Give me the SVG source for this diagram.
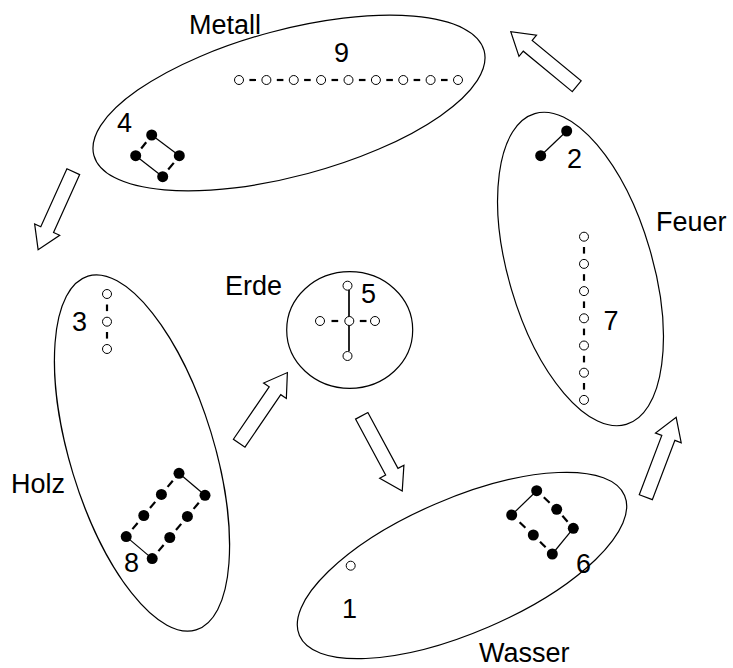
<svg xmlns="http://www.w3.org/2000/svg" width="733" height="668" viewBox="0 0 733 668">
<defs>
<style>
.ring{fill:none;stroke:#000;stroke-width:1.2}
.lbl{font-family:"Liberation Sans",Arial,sans-serif;font-size:27px;fill:#000}
.o{fill:#fff;stroke:#000;stroke-width:1}
.f{fill:#000}
.b{stroke:#000;stroke-width:1.2;fill:none}
.d{stroke:#000;stroke-width:2.2;fill:none}
.arr{fill:#fff;stroke:#000;stroke-width:1.2;stroke-linejoin:miter}
</style>
<path id="arrow" d="M0,-7 H63.5 V-13.75 L85.5,0 L63.5,13.75 V7 H0 Z"/>
</defs>
<rect width="733" height="668" fill="#fff"/>

<g id="connectors">
<use href="#arrow" class="arr" transform="translate(576.7,86.2) rotate(-140.45)"/>
<use href="#arrow" class="arr" transform="translate(73.3,171.7) rotate(114.3)"/>
<use href="#arrow" class="arr" transform="translate(239.2,443.2) rotate(-55.7)"/>
<use href="#arrow" class="arr" transform="translate(361.7,415.8) rotate(61.7)"/>
<use href="#arrow" class="arr" transform="translate(645.8,497.2) rotate(-69.2)"/>
</g>

<g id="metall">
<ellipse class="ring" cx="289" cy="103" rx="202" ry="73" transform="rotate(-15 289 103)"/>
<text class="lbl" x="189" y="34">Metall</text>
<text class="lbl" x="334" y="62">9</text>
<g>
<line class="d" x1="249.4" y1="80" x2="256" y2="80"/>
<line class="d" x1="276.8" y1="80" x2="283.4" y2="80"/>
<line class="d" x1="304.1" y1="80" x2="310.7" y2="80"/>
<line class="d" x1="331.5" y1="80" x2="338.1" y2="80"/>
<line class="d" x1="358.9" y1="80" x2="365.5" y2="80"/>
<line class="d" x1="386.3" y1="80" x2="392.9" y2="80"/>
<line class="d" x1="413.6" y1="80" x2="420.2" y2="80"/>
<line class="d" x1="441" y1="80" x2="447.6" y2="80"/>
<circle class="o" cx="239" cy="80" r="4.5"/>
<circle class="o" cx="266.4" cy="80" r="4.5"/>
<circle class="o" cx="293.75" cy="80" r="4.5"/>
<circle class="o" cx="321.1" cy="80" r="4.5"/>
<circle class="o" cx="348.5" cy="80" r="4.5"/>
<circle class="o" cx="375.9" cy="80" r="4.5"/>
<circle class="o" cx="403.25" cy="80" r="4.5"/>
<circle class="o" cx="430.6" cy="80" r="4.5"/>
<circle class="o" cx="458" cy="80" r="4.5"/>
</g>
<text class="lbl" x="117" y="132">4</text>
<g>
<line class="b" x1="151.7" y1="135" x2="179.3" y2="155.7"/>
<line class="b" x1="135.7" y1="155.7" x2="162.7" y2="176.7"/>
<line class="d" x1="146.2" y1="142.2" x2="141.2" y2="148.5"/>
<line class="d" x1="173.8" y1="162.9" x2="168.2" y2="169.5"/>
<circle class="f" cx="151.7" cy="135" r="5.5"/>
<circle class="f" cx="135.7" cy="155.7" r="5.5"/>
<circle class="f" cx="179.3" cy="155.7" r="5.5"/>
<circle class="f" cx="162.7" cy="176.7" r="5.5"/>
</g>
</g>

<g id="feuer">
<ellipse class="ring" cx="580.5" cy="269" rx="162" ry="72" transform="rotate(73.6 580.5 269)"/>
<text class="lbl" x="656" y="231">Feuer</text>
<text class="lbl" x="567" y="168">2</text>
<line class="b" x1="566.7" y1="131" x2="540.7" y2="155.7"/>
<circle class="f" cx="566.7" cy="131" r="5.5"/>
<circle class="f" cx="540.7" cy="155.7" r="5.5"/>
<text class="lbl" x="603.5" y="330">7</text>
<g>
<line class="d" x1="584" y1="247" x2="584" y2="253.6"/>
<line class="d" x1="584" y1="274.2" x2="584" y2="280.8"/>
<line class="d" x1="584" y1="301.4" x2="584" y2="308"/>
<line class="d" x1="584" y1="328.6" x2="584" y2="335.2"/>
<line class="d" x1="584" y1="355.8" x2="584" y2="362.4"/>
<line class="d" x1="584" y1="383" x2="584" y2="389.6"/>
<circle class="o" cx="584" cy="236.7" r="4.5"/>
<circle class="o" cx="584" cy="263.9" r="4.5"/>
<circle class="o" cx="584" cy="291.1" r="4.5"/>
<circle class="o" cx="584" cy="318.3" r="4.5"/>
<circle class="o" cx="584" cy="345.5" r="4.5"/>
<circle class="o" cx="584" cy="372.7" r="4.5"/>
<circle class="o" cx="584" cy="399.9" r="4.5"/>
</g>
</g>

<g id="erde">
<ellipse class="ring" cx="349.7" cy="330" rx="63" ry="58.3"/>
<text class="lbl" x="225" y="295">Erde</text>
<text class="lbl" x="361" y="303">5</text>
<line class="b" x1="349" y1="290" x2="349" y2="351" style="stroke-width:1.7"/>
<line class="d" x1="331.5" y1="321" x2="338.2" y2="321"/>
<line class="d" x1="359.8" y1="321" x2="366.5" y2="321"/>
<circle class="o" cx="347.5" cy="285.7" r="4.5"/>
<circle class="o" cx="320" cy="321" r="4.5"/>
<circle class="o" cx="349.3" cy="321" r="4.5"/>
<circle class="o" cx="375" cy="321" r="4.5"/>
<circle class="o" cx="347.5" cy="356" r="4.5"/>
</g>

<g id="holz">
<ellipse class="ring" cx="142" cy="453" rx="185" ry="72" transform="rotate(73 142 453)"/>
<text class="lbl" x="11" y="493">Holz</text>
<text class="lbl" x="72" y="331">3</text>
<line class="d" x1="107" y1="304.5" x2="107" y2="311.1"/>
<line class="d" x1="107" y1="332" x2="107" y2="338.6"/>
<circle class="o" cx="107" cy="294" r="4.5"/>
<circle class="o" cx="107" cy="321.7" r="4.5"/>
<circle class="o" cx="107" cy="349" r="4.5"/>
<text class="lbl" x="124" y="572">8</text>
<g>
<line class="b" x1="179" y1="473.3" x2="205" y2="495.3"/>
<line class="b" x1="126.2" y1="536.6" x2="152.2" y2="558.6"/>
<line class="d" x1="172.8" y1="480.8" x2="167.6" y2="486.9"/>
<line class="d" x1="155.2" y1="501.9" x2="150" y2="508"/>
<line class="d" x1="137.6" y1="523" x2="132.4" y2="529.1"/>
<line class="d" x1="198.8" y1="502.8" x2="193.6" y2="508.9"/>
<line class="d" x1="181.2" y1="523.9" x2="176" y2="530"/>
<line class="d" x1="163.6" y1="545" x2="158.4" y2="551.1"/>
<circle class="f" cx="179" cy="473.3" r="5.5"/>
<circle class="f" cx="161.4" cy="494.4" r="5.5"/>
<circle class="f" cx="143.8" cy="515.5" r="5.5"/>
<circle class="f" cx="126.2" cy="536.6" r="5.5"/>
<circle class="f" cx="205" cy="495.3" r="5.5"/>
<circle class="f" cx="187.4" cy="516.4" r="5.5"/>
<circle class="f" cx="169.8" cy="537.5" r="5.5"/>
<circle class="f" cx="152.2" cy="558.6" r="5.5"/>
</g>
</g>

<g id="wasser">
<ellipse class="ring" cx="462" cy="565.5" rx="177" ry="67" transform="rotate(-23.3 462 565.5)"/>
<text class="lbl" x="479" y="662">Wasser</text>
<text class="lbl" x="342" y="618">1</text>
<circle class="o" cx="350.7" cy="565.7" r="4.5"/>
<text class="lbl" x="576" y="573">6</text>
<g>
<line class="b" x1="536.7" y1="490.7" x2="511.7" y2="515"/>
<line class="b" x1="573.3" y1="528.3" x2="552.3" y2="554"/>
<line class="d" x1="543.8" y1="497.3" x2="549.6" y2="502.7"/>
<line class="d" x1="562.4" y1="515.8" x2="567.6" y2="521.8"/>
<line class="d" x1="519.6" y1="522.3" x2="525.4" y2="527.7"/>
<line class="d" x1="540" y1="541.7" x2="545.6" y2="547.3"/>
<circle class="f" cx="536.7" cy="490.7" r="5.5"/>
<circle class="f" cx="511.7" cy="515" r="5.5"/>
<circle class="f" cx="556.7" cy="509.3" r="5.5"/>
<circle class="f" cx="573.3" cy="528.3" r="5.5"/>
<circle class="f" cx="533.3" cy="535" r="5.5"/>
<circle class="f" cx="552.3" cy="554" r="5.5"/>
</g>
</g>
</svg>
